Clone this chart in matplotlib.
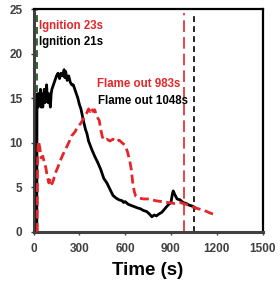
import matplotlib

matplotlib.use("Agg")
import matplotlib.pyplot as plt

# black curve (ignition 21 s)
black_t = [21, 22, 25, 30, 35, 40, 45, 50, 55, 60, 65, 70, 75, 80, 85, 90, 95, 100,
           110, 115, 120, 130, 140, 150, 160, 170, 180, 190, 200, 205, 210, 220, 230,
           240, 250, 260, 270, 280, 290, 300, 310, 320, 330, 340, 350, 360, 380, 400,
           420, 440, 460, 480, 500, 520, 540, 560, 580, 590, 600, 620, 650, 680, 700,
           720, 740, 760, 775, 790, 805, 820, 840, 860, 880, 900, 910, 915, 925, 940,
           960, 980, 1000, 1020, 1040, 1060]
black_v = [0, 14, 15.5, 14, 15.5, 14.5, 16, 14, 15.5, 14, 15, 16, 14.5, 15, 16.5, 15,
           14.5, 15.5, 14, 15.5, 16, 16.5, 17, 17.5, 17.8, 17.2, 17.8, 17.5, 18.2, 17.3,
           18, 17, 17.5, 16.8, 16.5, 16.5, 16, 15.5, 15, 14.3, 13.8, 13, 12.2, 11.5, 11,
           10.2, 9.3, 8.5, 7.8, 7, 6, 5.5, 4.8, 4.1, 3.8, 3.6, 3.5, 3.3, 3.4, 3.1, 2.9,
           2.7, 2.6, 2.4, 2.3, 2.0, 1.7, 1.9, 1.8, 2.0, 2.2, 2.6, 3.0, 3.3, 4.3, 4.6, 4.2,
           3.7, 3.6, 3.3, 3.2, 3.0, 2.9, 2.7]

# red dashed curve (ignition 23 s)
red_t = [23, 25, 28, 32, 40, 50, 60, 70, 80, 90, 100, 110, 120, 130, 140, 150, 160,
         175, 190, 210, 230, 250, 270, 290, 310, 330, 350, 360, 370, 380, 390, 400,
         410, 420, 430, 440, 450, 460, 480, 500, 520, 540, 560, 580, 600, 615, 630,
         640, 650, 660, 670, 690, 720, 760, 800, 840, 880, 920, 960, 1000, 1040, 1080,
         1120, 1160, 1200]
red_v = [0, 6, 9.5, 10.2, 9.5, 8.3, 8.5, 7.8, 7.2, 6.2, 5.5, 6.0, 5.4, 5.8, 6.5, 6.9,
         7.3, 8, 8.6, 9.3, 10, 10.8, 11.2, 11.8, 12.2, 12.8, 13.4, 13.8, 13.5, 13.9,
         13.5, 13.7, 13.2, 12.8, 12.5, 11.5, 10.7, 10.3, 10.4, 10.2, 10.4, 10.1, 10.3,
         10.0, 9.7, 9, 8, 7, 5.5, 4.5, 4, 3.8, 3.7, 3.7, 3.5, 3.4, 3.3, 3.2, 3.3, 3.1,
         2.8, 2.6, 2.4, 2.1, 1.9]

ignition_red, ignition_black = 23, 21
flameout_red, flameout_black = 983, 1048

RED = "#e3262b"
FONT = "Liberation Sans"

fig = plt.figure(figsize=(2.8, 2.86), dpi=100)
ax = fig.add_axes([0.12, 0.189, 0.8175, 0.7795])

ax.plot(black_t, black_v, color="black", lw=2.0, zorder=3)
ax.plot(red_t, red_v, color=RED, lw=2.0, dashes=(3.2, 1.6), zorder=4)

ax.vlines(ignition_black, 0, 25, color="black", lw=1.2, linestyles=(0, (4, 3)), zorder=2)
ax.vlines(ignition_red, 0, 25, color="#3a7a3a", lw=1.2, linestyles=(0, (4, 3)), zorder=2)
ax.vlines(flameout_red, 0, 24.5, color=RED, lw=1.2, linestyles=(0, (7, 3)), zorder=2)
ax.vlines(flameout_black, 0, 24.7, color="black", lw=1.2, linestyles=(0, (3.5, 2.5)), zorder=2)

tfont = dict(fontsize=8.3, fontweight="bold", family=FONT)
ax.text(35, 22.8, "Ignition 23s", color=RED, **tfont)
ax.text(35, 21.0, "Ignition 21s", color="black", **tfont)
ax.text(415, 16.3, "Flame out 983s", color=RED, **tfont)
ax.text(420, 14.4, "Flame out 1048s", color="black", **tfont)

ax.set_xlim(0, 1500)
ax.set_ylim(0, 25)
ax.set_xticks([0, 300, 600, 900, 1200, 1500])
ax.set_yticks([0, 5, 10, 15, 20, 25])
ax.tick_params(labelsize=8.5, length=2, width=1, colors="#404040", pad=6)
for lab in ax.get_xticklabels() + ax.get_yticklabels():
    lab.set_fontweight("bold")
    lab.set_family(FONT)
ax.set_xlabel("Time (s)", fontsize=13.5, fontweight="bold", family=FONT, labelpad=5)

for side in ("left", "bottom"):
    ax.spines[side].set_linewidth(2.2)
    ax.spines[side].set_color("#404040")
for side in ("top", "right"):
    ax.spines[side].set_linewidth(1.6)
    ax.spines[side].set_color("black")

fig.savefig("out.png", dpi=100)
